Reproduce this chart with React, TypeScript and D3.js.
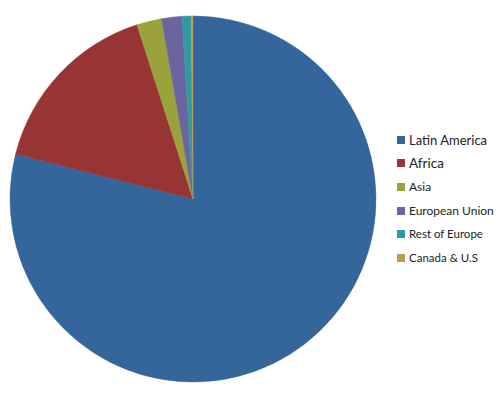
import { useEffect, useRef } from "react";
import * as d3 from "d3";

const categories = ["Latin America", "Africa", "Asia", "European Union", "Rest of Europe", "Canada & U.S"];
const values = [79.0, 16.1, 2.2, 1.8, 0.8, 0.15];
const colors = ["#34669b", "#973535", "#9aa23b", "#6c649f", "#2f9aa5", "#bf9b4a"];
const fontSizes = [13, 13.5, 12, 12, 11.5, 11.5];
const rowY = [140, 163, 187, 211, 234, 258];

type Slice = { name: string; value: number; color: string };

const App: React.FC = () => {
  const svgRef = useRef<SVGSVGElement | null>(null);

  useEffect(() => {
    if (!svgRef.current) return;
    const svg = d3.select(svgRef.current);
    svg.selectAll("*").remove();

    const data: Slice[] = categories.map((c, i) => ({ name: c, value: values[i], color: colors[i] }));

    // pie
    const cx = 193;
    const cy = 199;
    const r = 183;
    const pie = d3.pie<Slice>().sort(null).value((d) => d.value);
    const arc = d3.arc<d3.PieArcDatum<Slice>>().innerRadius(0).outerRadius(r);

    svg
      .append("g")
      .attr("transform", `translate(${cx},${cy})`)
      .selectAll("path")
      .data(pie(data))
      .join("path")
      .attr("d", arc)
      .attr("fill", (d) => d.data.color)
      .attr("stroke", (d) => d.data.color)
      .attr("stroke-width", 0.5);

    // legend
    const y = d3.scaleOrdinal<string, number>().domain(categories).range(rowY);
    const legend = svg
      .append("g")
      .selectAll("g")
      .data(data)
      .join("g")
      .attr("transform", (d) => `translate(0,${y(d.name)})`);

    legend
      .append("rect")
      .attr("x", 397)
      .attr("y", -4)
      .attr("width", 8)
      .attr("height", 8)
      .attr("fill", (d) => d.color);

    legend
      .append("text")
      .attr("x", 409)
      .attr("dy", "0.35em")
      .attr("font-family", "Lato, 'Open Sans', sans-serif")
      .attr("font-size", (_d, i) => fontSizes[i])
      .attr("fill", "#222")
      .text((d) => d.name);
  }, []);

  return (
    <svg
      ref={svgRef}
      width={500}
      height={394}
      style={{ position: "absolute", left: 0, top: 0, background: "#fff" }}
    ></svg>
  );
};

export default App;
